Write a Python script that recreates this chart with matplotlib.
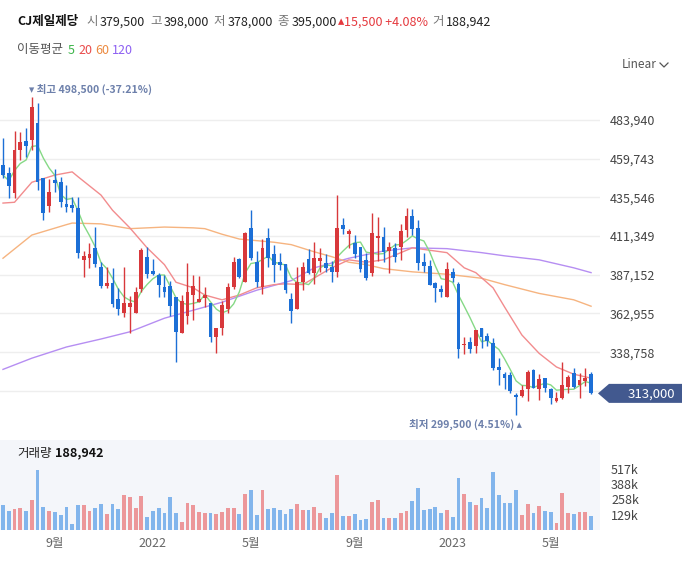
import numpy as np
import pandas as pd
import matplotlib
matplotlib.use('Agg')
import matplotlib.pyplot as plt
from matplotlib import transforms
from matplotlib.lines import Line2D
from matplotlib.patches import Polygon

plt.rcParams['font.family'] = ['Noto Sans CJK KR', 'DejaVu Sans']

# 주봉 데이터
opens = [456000, 451000, 438500, 465000, 471000, 471500, 482000, 447500, 430000, 446500,
         445000, 431500, 431000, 429000, 396500, 397500, 404000, 392000, 380000, 382000,
         372000, 363000, 367000, 363000, 378500, 398500, 389500, 387000, 379500, 380000,
         373000, 351000, 361500, 374500, 370000, 372500, 369500, 348000, 354000, 366000,
         379500, 397000, 382500, 416500, 395000, 379500, 410000, 400000, 395000, 394000,
         372000, 366000, 382500, 397000, 388500, 396000, 394500, 392000, 389000, 418500,
         412500, 407000, 404500, 396500, 388000, 410000, 411000, 402000, 404000, 404500,
         415000, 424000, 416500, 395000, 392500, 382000, 378500, 373500, 389000, 381500,
         343000, 345000, 342500, 354000, 349000, 344500, 329500, 325000, 324500, 312000,
         311500, 315500, 327500, 315500, 322500, 315500, 308000, 310000, 317000, 325500,
         318000, 320500, 325000]
highs = [472500, 454500, 477000, 476500, 479000, 498500, 494500, 447500, 447000, 453500,
         448500, 443500, 436000, 436000, 402000, 407000, 417000, 395000, 392000, 391500,
         379000, 392000, 374000, 379500, 404000, 404500, 397000, 388500, 387000, 383500,
         373500, 374500, 394500, 387000, 386500, 379500, 369500, 354000, 371000, 382000,
         398000, 397500, 414000, 427500, 402000, 409500, 416500, 406000, 401000, 394000,
         376000, 392000, 395000, 403500, 407500, 404000, 400000, 396000, 437000, 422500,
         416000, 412000, 404500, 401000, 426000, 423500, 417000, 407500, 407000, 419000,
         429000, 428500, 421500, 401000, 396500, 382500, 381000, 395000, 391500, 382500,
         348000, 348000, 352500, 354000, 350500, 347500, 335000, 326500, 326500, 313000,
         318000, 327500, 328000, 325000, 322500, 316500, 314000, 332500, 324500, 329000,
         325500, 329000, 326500]
lows = [447500, 435000, 435000, 459000, 461000, 465000, 440000, 421500, 426500, 439000,
        429500, 426500, 426500, 397500, 386000, 391500, 392000, 379000, 379000, 367000,
        362000, 361000, 351000, 363000, 376500, 385000, 387000, 373500, 373500, 361500,
        332500, 351000, 356500, 359000, 370000, 367000, 345000, 338000, 349500, 363000,
        378000, 385000, 382500, 396500, 379500, 375000, 392000, 382500, 390000, 376000,
        357000, 366000, 377500, 387500, 381500, 389000, 389000, 382500, 386000, 412500,
        404000, 397500, 389000, 384000, 386500, 395500, 395000, 388500, 395000, 396500,
        411000, 412000, 390000, 389000, 380500, 370000, 373500, 373000, 382500, 335000,
        337500, 338000, 338000, 341500, 342500, 327500, 318000, 315500, 313000, 299500,
        310500, 308000, 316500, 309000, 314000, 306500, 307500, 309500, 313000, 316500,
        310000, 317500, 312500]
closes = [449500, 442500, 465000, 470000, 467500, 492000, 445000, 426000, 439000, 444500,
          432500, 429500, 429000, 401000, 399000, 400000, 394000, 380000, 382000, 369000,
          366000, 369500, 369500, 376500, 402500, 387500, 387500, 381000, 376500, 367500,
          351500, 371000, 376500, 380000, 372000, 374500, 348000, 354000, 368000, 379500,
          395000, 386000, 413000, 397500, 382500, 404000, 397500, 393500, 393500, 377500,
          364500, 382500, 392000, 388500, 397500, 397500, 391500, 389000, 416500, 416000,
          414500, 400000, 391000, 385000, 413000, 411500, 401500, 404500, 398500, 414500,
          424000, 416000, 394500, 392500, 381000, 379000, 376500, 391000, 385000, 341000,
          344000, 341000, 352500, 348000, 345500, 329000, 327500, 322500, 314500, 310500,
          315000, 326500, 316500, 322000, 316500, 310000, 310000, 318000, 323000, 317000,
          321500, 322500, 313000]
volume_k = [208, 157, 180, 183, 157, 250, 503, 191, 157, 152,
            129, 191, 48, 208, 208, 157, 183, 216, 132, 216,
            174, 292, 275, 183, 289, 112, 157, 183, 140, 275,
            143, 65, 225, 208, 149, 140, 140, 132, 149, 183,
            183, 132, 301, 334, 124, 334, 174, 183, 166, 132,
            174, 216, 166, 166, 191, 140, 98, 140, 461, 115,
            115, 132, 81, 90, 233, 250, 98, 98, 98, 140,
            157, 242, 351, 166, 174, 191, 140, 166, 107, 436,
            301, 233, 208, 267, 183, 486, 292, 225, 225, 334,
            124, 216, 140, 200, 157, 152, 56, 309, 140, 132,
            149, 149, 115]

# 이동평균선 (그림에서 읽은 점)
ma20_idx = [0, 2, 5, 9, 12, 13, 17, 19, 22, 25, 28, 30, 33, 35, 38, 41, 44, 47, 49, 52,
            57, 60, 63, 66, 69, 71, 74, 77, 80, 82, 85, 87, 90, 93, 96, 99, 102]
ma20_val = [432000, 432500, 445000, 449500, 451500, 448500, 437000, 427500, 416500, 404000,
            393500, 382500, 379000, 374500, 371500, 374500, 379000, 381000, 381500, 381000,
            391500, 396500, 395000, 396500, 401000, 404000, 402500, 401000, 391500, 388500,
            379000, 367000, 349500, 338000, 329500, 325000, 322500]
ma60_idx = [0, 5, 11, 12, 17, 22, 28, 33, 35, 38, 41, 44, 47, 50, 54, 57, 60, 63, 66, 71,
            77, 83, 87, 93, 99, 102]
ma60_val = [397500, 412000, 418500, 419500, 419000, 416000, 417000, 416500, 416000, 412500,
            409500, 408500, 407500, 406000, 401500, 398500, 395000, 393500, 391000, 389000,
            387500, 385000, 381000, 375500, 371500, 367500]
ma120_idx = [0, 5, 11, 17, 22, 28, 33, 38, 44, 50, 54, 60, 66, 71, 77, 83, 87, 93, 99, 102]
ma120_val = [328000, 335000, 342000, 347000, 351500, 360000, 365000, 370000, 377500, 383500,
             391500, 397500, 402000, 404000, 403500, 401000, 399000, 396500, 391500, 388500]

price_ticks = [483940 - 24197 * k for k in range(8)]
vol_ticks = [129250, 258500, 387750, 517000]
vol_tick_labels = ['129k', '258k', '388k', '517k']

dates = pd.date_range('2021-07-05', periods=len(closes), freq='W-MON')

RED = '#d8383b'
BLUE = '#1c6fd6'
RED_V = '#ec979a'
BLUE_V = '#82b5ec'

W, H = 685, 568
fig = plt.figure(figsize=(W / 100, H / 100), dpi=100)
ax = fig.add_axes([0, 1 - 430 / H, 600 / W, (430 - 82) / H])
axv = fig.add_axes([0, 1 - 530 / H, 600 / W, 90 / H])

o = np.array(opens); h = np.array(highs); l = np.array(lows); c = np.array(closes)
x = np.arange(len(c))
up = c >= o
cols = np.where(up, RED, BLUE)

# 이동평균
ma5 = pd.Series(c).rolling(5, min_periods=1).mean()
ax.plot(ma120_idx, ma120_val, color='#b68ef2', lw=1.0, zorder=2)
ax.plot(ma60_idx, ma60_val, color='#f6b480', lw=1.0, zorder=2)
ax.plot(ma20_idx, ma20_val, color='#f28c8e', lw=1.0, zorder=2)
ax.plot(x, ma5, color='#86d986', lw=1.0, zorder=2)

# 캔들
ax.vlines(x, l, h, color=cols, lw=1.0, zorder=3)
body = np.maximum(np.abs(c - o), 700)
ax.bar(x, body, bottom=np.minimum(o, c), width=0.66, color=cols, zorder=4)

ax.set_xlim(-0.52, 103.55)
ax.set_ylim(290100, 507700)
ax.set_yticks(price_ticks)
ax.set_yticklabels([f'{v:,}' for v in price_ticks[:-1]] + [''])
ax.yaxis.tick_right()
ax.tick_params(axis='y', length=0, pad=7, labelsize=9, labelcolor='#444444')
ax.set_xticks([])
ax.grid(axis='y', color='#eeeeee', lw=1)
ax.set_axisbelow(True)
for s in ax.spines.values():
    s.set_visible(False)

# 최고 / 최저
last = closes[-1]
imax = int(np.argmax(h)); imin = int(np.argmin(l))
ax.annotate(f'▾ 최고 {h[imax]:,} ({(last / h[imax] - 1) * 100:.2f}%)', xy=(imax, h[imax]),
            xytext=(-2, 1), textcoords='offset points', ha='left', va='bottom',
            fontsize=7.6, color='#6d80ab', fontweight='bold', annotation_clip=False)
ax.annotate(f'최저 {l[imin]:,} ({(last / l[imin] - 1) * 100:.2f}%) ▴', xy=(imin, l[imin]),
            xytext=(4, -3), textcoords='offset points', ha='right', va='top',
            fontsize=7.6, color='#6d80ab', fontweight='bold', annotation_clip=False)

# 현재가 태그
blend = transforms.blended_transform_factory(ax.transAxes, ax.transData)
tag_tr = fig.dpi_scale_trans + transforms.ScaledTranslation(1, last, blend)
tag = Polygon([(-0.02, 0), (0.09, 0.095), (0.82, 0.095), (0.82, -0.095), (0.09, -0.095)],
              closed=True, fc='#42598f', ec='none', transform=tag_tr, clip_on=False, zorder=10)
fig.add_artist(tag)
fig.text(0.28, -0.005, f'{last:,}', transform=tag_tr, color='white', fontsize=9.5,
         ha='left', va='center', zorder=11)

# 거래량
axv.set_facecolor('#f4f6fa')
axv.bar(x, np.array(volume_k) * 1000, width=0.66, color=np.where(up, RED_V, BLUE_V))
axv.set_xlim(-0.52, 103.55)
axv.set_ylim(0, 759000)
axv.set_yticks(vol_ticks)
axv.set_yticklabels(vol_tick_labels)
axv.yaxis.tick_right()
axv.tick_params(axis='y', length=0, pad=8, labelsize=9, labelcolor='#444444')
tick_pos, tick_lab = [], []
for i in range(1, len(dates)):
    if dates[i].month != dates[i - 1].month and dates[i].month in (1, 5, 9):
        tick_pos.append(i)
        tick_lab.append(str(dates[i].year) if dates[i].month == 1 else f'{dates[i].month}월')
axv.set_xticks(tick_pos)
axv.set_xticklabels(tick_lab)
axv.tick_params(axis='x', length=0, pad=5, labelsize=9, labelcolor='#666666')
for s in axv.spines.values():
    s.set_visible(False)

# 상단 텍스트
renderer = fig.canvas.get_renderer()


def put_row(x_px, y_px, pieces):
    xx = x_px
    for txt, color, weight, size, gap in pieces:
        t = fig.text(xx / W, 1 - y_px / H, txt, color=color, fontweight=weight,
                     fontsize=size, ha='left', va='center')
        xx += t.get_window_extent(renderer=renderer).width + gap


G = '#777777'; D = '#222222'; FS = 9.0
put_row(17, 22, [('CJ제일제당', '#111111', 'bold', FS, 8),
                 ('시', G, 'normal', FS, 2), ('379,500', D, 'normal', FS, 5),
                 ('고', G, 'normal', FS, 2), ('398,000', D, 'normal', FS, 5),
                 ('저', G, 'normal', FS, 2), ('378,000', D, 'normal', FS, 5),
                 ('종', G, 'normal', FS, 2), ('395,000', D, 'normal', FS, 1),
                 ('▴', '#e5393e', 'normal', FS, 0),
                 ('15,500 +4.08%', '#e5393e', 'normal', FS, 5),
                 ('거', G, 'normal', FS, 2), ('188,942', D, 'normal', FS, 0)])
put_row(17, 50, [('이동평균', '#555555', 'normal', 9, 5), ('5', '#3db54a', 'normal', 9, 3),
                 ('20', '#e94b4b', 'normal', 9, 3), ('60', '#ec8a40', 'normal', 9, 3),
                 ('120', '#8d60f2', 'normal', 9, 0)])
put_row(17, 453, [('거래량', '#222222', 'normal', 9, 3), ('188,942', '#111111', 'bold', 9, 0)])

fig.text(622 / W, 1 - 65 / H, 'Linear', fontsize=8.5, color='#555555', ha='left', va='center')
fig.add_artist(Line2D([660 / W, 664 / W, 668 / W], [1 - 63 / H, 1 - 67 / H, 1 - 63 / H],
                      color='#555555', lw=0.9))

fig.savefig('out.png', dpi=100)
